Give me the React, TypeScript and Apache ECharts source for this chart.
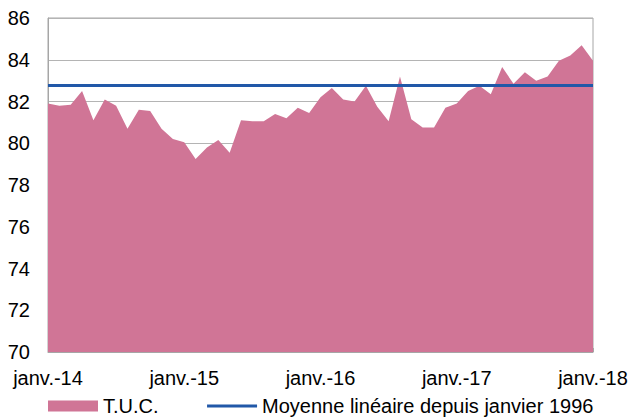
import React, { useEffect, useRef } from "react";
import * as echarts from "echarts";

const MONTHS = ["janv.", "févr.", "mars", "avr.", "mai", "juin", "juil.", "août", "sept.", "oct.", "nov.", "déc."];
const YEARS = ["14", "15", "16", "17", "18"];
const categories: string[] = [];
YEARS.forEach((y, yi) => {
  MONTHS.forEach((m, mi) => {
    if (yi === YEARS.length - 1 && mi > 0) return;
    categories.push(`${m}-${y}`);
  });
});

const tucValues = [
  81.9, 81.8, 81.85, 82.5, 81.1, 82.1, 81.8, 80.7, 81.6, 81.55, 80.7, 80.2,
  80.05, 79.25, 79.8, 80.15, 79.55, 81.1, 81.05, 81.05, 81.4, 81.2, 81.7, 81.45,
  82.2, 82.65, 82.1, 82.0, 82.75, 81.75, 81.05, 83.2, 81.15, 80.75, 80.75, 81.7,
  81.9, 82.5, 82.75, 82.35, 83.65, 82.85, 83.4, 83.0, 83.2, 83.95, 84.2, 84.7,
  83.95,
];
const meanValue = 82.8;

const SERIES_TUC = "T.U.C.";
const SERIES_MEAN = "Moyenne linéaire depuis janvier 1996";

const FONT = "'Liberation Sans', Arial, sans-serif";
const FS = 20;
const PINK = "#D07596";
const BLUE = "#2158A8";
const GRAY = "#A6A6A6";

export default function App() {
  const ref = useRef<HTMLDivElement>(null);
  useEffect(() => {
    if (!ref.current) return;
    const chart = echarts.init(ref.current, undefined, { renderer: "svg" });
    chart.setOption({
      animation: false,
      textStyle: { fontFamily: FONT },
      grid: {
        left: 48,
        right: 40,
        top: 18,
        bottom: 66,
        show: true,
        borderColor: GRAY,
        borderWidth: 1,
      },
      legend: {
        left: 48,
        top: 396,
        padding: 0,
        itemWidth: 50,
        itemHeight: 11,
        itemGap: 47,
        textStyle: { fontSize: FS, color: "#000", fontFamily: FONT },
        data: [
          { name: SERIES_TUC, icon: "rect" },
          { name: SERIES_MEAN, itemStyle: { opacity: 0 }, lineStyle: { width: 3, color: BLUE } },
        ],
      },
      xAxis: {
        type: "category",
        data: categories,
        boundaryGap: false,
        axisLine: { lineStyle: { color: GRAY } },
        axisTick: {
          show: true,
          inside: true,
          length: 4,
          interval: 5,
          lineStyle: { color: GRAY },
        },
        axisLabel: {
          interval: 11,
          fontSize: FS,
          color: "#000",
          margin: 16,
          fontFamily: FONT,
        },
        splitLine: { show: false },
      },
      yAxis: {
        type: "value",
        min: 70,
        max: 86,
        interval: 2,
        axisLine: { show: true, lineStyle: { color: GRAY } },
        axisTick: { show: false },
        axisLabel: { fontSize: FS, color: "#000", margin: 18, fontFamily: FONT },
        splitLine: { lineStyle: { color: "#B4B4B4", width: 1 } },
      },
      series: [
        {
          name: SERIES_TUC,
          type: "line",
          data: tucValues,
          symbol: "none",
          lineStyle: { width: 0, color: PINK },
          itemStyle: { color: PINK },
          areaStyle: { color: PINK, opacity: 1, origin: "start" },
          z: 1,
        },
        {
          name: SERIES_MEAN,
          type: "line",
          data: [],
          symbol: "none",
          lineStyle: { width: 3, color: BLUE },
          itemStyle: { color: BLUE },
          markLine: {
            silent: true,
            symbol: "none",
            label: { show: false },
            lineStyle: { color: BLUE, width: 3, type: "solid" },
            data: [{ yAxis: meanValue }],
          },
          z: 3,
        },
      ],
    });
    return () => chart.dispose();
  }, []);
  return (
    <div
      ref={ref}
      style={{ position: "absolute", left: 0, top: 0, width: 633, height: 418 }}
    />
  );
}
